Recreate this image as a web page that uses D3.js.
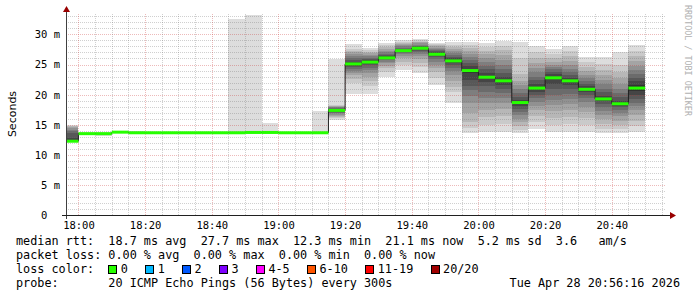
<!DOCTYPE html>
<html>
<head>
<meta charset="utf-8">
<script src="https://cdn.jsdelivr.net/npm/d3@7"></script>
<style>
body { margin: 0; background: #fff; }
svg { display: block; }
text { white-space: pre; }
</style>
</head>
<body>
<svg id="chart" width="697" height="297"></svg>
<script>
"use strict"

// end time of each 5 minute step (300s)
var stepEnds = ["18:00", "18:05", "18:10", "18:15", "18:20", "18:25", "18:30", "18:35", "18:40",
    "18:45", "18:50", "18:55", "19:00", "19:05", "19:10", "19:15", "19:20", "19:25", "19:30",
    "19:35", "19:40", "19:45", "19:50", "19:55", "20:00", "20:05", "20:10", "20:15", "20:20",
    "20:25", "20:30", "20:35", "20:40", "20:45", "20:50"];

// median rtt per step, ms
var medians = [12.3, 13.55, 13.55, 13.8, 13.7, 13.7, 13.7, 13.7, 13.7, 13.7, 13.7, 13.75, 13.75,
    13.7, 13.7, 13.7, 17.4, 25.1, 25.4, 26.1, 27.3, 27.7, 26.7, 25.6, 24.0, 22.9, 22.3, 18.7,
    21.1, 22.8, 22.3, 20.9, 19.3, 18.5, 21.1];

// the 20 sorted pings of each step, ms (smoke)
var pings = [
    [12.1, 12.1, 12.2, 12.2, 12.2, 12.2, 12.3, 12.3, 12.3, 12.3, 12.4, 12.8, 13.6, 14.0, 14.2, 14.5, 14.7, 14.8, 14.9, 15.0],
    [13.4, 13.4, 13.5, 13.5, 13.5, 13.5, 13.5, 13.5, 13.5, 13.5, 13.6, 13.6, 13.6, 13.6, 13.6, 13.6, 13.6, 13.7, 13.7, 13.8],
    [13.1, 13.4, 13.5, 13.5, 13.5, 13.5, 13.5, 13.5, 13.5, 13.5, 13.6, 13.6, 13.6, 13.6, 13.6, 13.6, 13.6, 13.7, 13.7, 13.8],
    [13.6, 13.7, 13.7, 13.7, 13.7, 13.8, 13.8, 13.8, 13.8, 13.8, 13.8, 13.8, 13.8, 13.8, 13.9, 13.9, 13.9, 13.9, 13.9, 14.0],
    [13.5, 13.6, 13.6, 13.6, 13.6, 13.7, 13.7, 13.7, 13.7, 13.7, 13.7, 13.7, 13.7, 13.7, 13.8, 13.8, 13.8, 13.8, 13.9, 14.0],
    [13.6, 13.6, 13.6, 13.6, 13.7, 13.7, 13.7, 13.7, 13.7, 13.7, 13.7, 13.7, 13.7, 13.7, 13.7, 13.8, 13.8, 13.8, 13.8, 13.8],
    [13.6, 13.6, 13.6, 13.6, 13.7, 13.7, 13.7, 13.7, 13.7, 13.7, 13.7, 13.7, 13.7, 13.7, 13.7, 13.8, 13.8, 13.8, 13.8, 13.8],
    [13.6, 13.6, 13.6, 13.6, 13.7, 13.7, 13.7, 13.7, 13.7, 13.7, 13.7, 13.7, 13.7, 13.7, 13.7, 13.8, 13.8, 13.8, 13.8, 13.8],
    [13.6, 13.6, 13.6, 13.6, 13.7, 13.7, 13.7, 13.7, 13.7, 13.7, 13.7, 13.7, 13.7, 13.7, 13.7, 13.8, 13.8, 13.8, 13.8, 13.8],
    [13.6, 13.6, 13.6, 13.6, 13.7, 13.7, 13.7, 13.7, 13.7, 13.7, 13.7, 13.7, 13.7, 13.7, 13.7, 13.8, 13.8, 13.8, 13.8, 13.8],
    [13.6, 13.6, 13.6, 13.6, 13.7, 13.7, 13.7, 13.7, 13.7, 13.7, 13.7, 13.7, 13.7, 13.7, 13.7, 13.8, 13.8, 13.8, 13.8, 32.5],
    [13.6, 13.6, 13.7, 13.7, 13.7, 13.7, 13.7, 13.7, 13.7, 13.7, 13.8, 13.8, 13.8, 13.8, 13.8, 13.8, 13.8, 13.9, 13.9, 33.2],
    [13.6, 13.6, 13.7, 13.7, 13.7, 13.7, 13.7, 13.7, 13.7, 13.7, 13.8, 13.8, 13.8, 13.8, 13.8, 13.8, 13.8, 13.9, 13.9, 15.3],
    [13.6, 13.6, 13.6, 13.6, 13.7, 13.7, 13.7, 13.7, 13.7, 13.7, 13.7, 13.7, 13.7, 13.7, 13.7, 13.8, 13.8, 13.8, 13.8, 13.8],
    [13.6, 13.6, 13.6, 13.6, 13.7, 13.7, 13.7, 13.7, 13.7, 13.7, 13.7, 13.7, 13.7, 13.7, 13.7, 13.8, 13.8, 13.8, 13.8, 13.8],
    [13.6, 13.6, 13.6, 13.6, 13.7, 13.7, 13.7, 13.7, 13.7, 13.7, 13.7, 13.7, 13.7, 13.7, 13.7, 13.8, 13.8, 13.8, 13.8, 17.3],
    [15.8, 16.1, 16.3, 16.5, 16.7, 16.9, 17.0, 17.1, 17.2, 17.3, 17.5, 17.6, 17.7, 17.8, 17.9, 18.0, 18.1, 18.2, 18.3, 25.9],
    [20.2, 21.9, 22.6, 23.2, 23.6, 24.0, 24.3, 24.6, 24.8, 25.0, 25.2, 25.5, 25.8, 26.1, 26.4, 26.7, 27.0, 27.2, 27.5, 28.4],
    [20.2, 21.5, 22.3, 23.0, 23.6, 24.1, 24.5, 24.9, 25.1, 25.3, 25.5, 25.7, 25.9, 26.1, 26.4, 26.6, 26.9, 27.1, 27.4, 27.8],
    [22.9, 23.8, 24.4, 24.8, 25.2, 25.5, 25.7, 25.9, 26.0, 26.1, 26.2, 26.4, 26.6, 26.8, 27.0, 27.3, 27.6, 27.9, 28.2, 28.6],
    [24.1, 24.9, 25.5, 26.0, 26.4, 26.7, 26.9, 27.1, 27.2, 27.3, 27.4, 27.5, 27.6, 27.8, 28.0, 28.2, 28.4, 28.6, 28.8, 29.1],
    [23.6, 24.6, 25.3, 25.9, 26.4, 26.8, 27.1, 27.3, 27.5, 27.6, 27.8, 27.9, 28.0, 28.1, 28.3, 28.5, 28.7, 28.8, 29.0, 29.2],
    [21.6, 22.8, 23.7, 24.4, 25.0, 25.5, 25.9, 26.2, 26.5, 26.6, 26.8, 27.0, 27.2, 27.4, 27.6, 27.8, 28.0, 28.2, 28.4, 28.6],
    [18.7, 20.4, 21.3, 22.3, 23.2, 23.9, 24.4, 24.9, 25.3, 25.5, 25.7, 26.0, 26.3, 26.6, 26.9, 27.2, 27.6, 27.9, 28.3, 28.7],
    [13.6, 14.5, 15.5, 17.0, 18.6, 19.8, 20.8, 21.5, 22.5, 23.6, 24.3, 24.8, 25.3, 25.8, 26.3, 26.8, 27.3, 27.8, 28.3, 28.8],
    [13.9, 15.0, 16.3, 17.5, 18.6, 19.5, 20.5, 21.4, 22.1, 22.7, 23.1, 23.6, 24.2, 24.8, 25.4, 26.0, 26.7, 27.3, 27.9, 28.6],
    [13.9, 15.2, 16.4, 17.6, 18.7, 19.5, 20.3, 21.0, 21.6, 22.1, 22.5, 23.0, 23.6, 24.3, 25.0, 25.8, 26.6, 27.4, 28.1, 28.9],
    [13.6, 14.2, 14.8, 15.4, 16.0, 16.6, 17.2, 17.7, 18.2, 18.6, 18.8, 19.2, 19.7, 20.3, 21.0, 21.6, 22.2, 23.4, 26.1, 28.8],
    [14.3, 15.4, 16.5, 17.4, 18.1, 18.8, 19.4, 19.9, 20.4, 20.9, 21.3, 21.8, 22.4, 23.0, 23.7, 24.4, 25.2, 26.0, 27.0, 28.1],
    [13.9, 15.0, 16.2, 17.3, 18.3, 19.2, 20.0, 20.9, 21.8, 22.6, 23.0, 23.4, 23.8, 24.2, 24.6, 25.0, 25.5, 26.1, 26.8, 27.5],
    [13.9, 15.1, 16.3, 17.4, 18.4, 19.3, 20.1, 20.9, 21.6, 22.2, 22.4, 22.8, 23.3, 23.8, 24.3, 24.9, 25.6, 26.4, 27.2, 28.1],
    [13.9, 15.0, 16.1, 17.1, 18.0, 18.8, 19.5, 20.0, 20.4, 20.8, 21.0, 21.4, 21.8, 22.3, 22.8, 23.3, 23.9, 24.6, 25.4, 26.3],
    [13.6, 14.4, 15.2, 15.9, 16.6, 17.3, 17.9, 18.5, 18.9, 19.2, 19.4, 19.8, 20.4, 21.0, 21.7, 22.4, 23.2, 24.1, 25.1, 26.2],
    [13.6, 14.3, 15.0, 15.7, 16.4, 17.0, 17.5, 17.9, 18.2, 18.4, 18.6, 19.0, 19.6, 20.3, 21.0, 21.8, 22.7, 23.7, 25.0, 27.0],
    [13.9, 14.8, 15.7, 16.6, 17.4, 18.1, 18.7, 19.3, 19.9, 20.6, 21.6, 22.2, 22.8, 23.4, 24.1, 24.8, 25.6, 26.4, 27.3, 28.2]
];

var yTickValues = [0, 5, 10, 15, 20, 25, 30];
var yTickLabels = ["0  ", "5 m", "10 m", "15 m", "20 m", "25 m", "30 m"];
var xTickLabels = ["18:00", "18:20", "18:40", "19:00", "19:20", "19:40", "20:00", "20:20", "20:40"];

var lossLabels = ["0", "1", "2", "3", "4-5", "6-10", "11-19", "20/20"];
var lossColors = ["#26ff00", "#00b8ff", "#0059ff", "#7e00ff", "#ff00ff", "#ff5500", "#ff0000", "#a10000"];

var legendRows = [
    "median rtt:  18.7 ms avg  27.7 ms max  12.3 ms min  21.1 ms now  5.2 ms sd  3.6   am/s",
    "packet loss: 0.00 % avg  0.00 % max  0.00 % min  0.00 % now",
    "loss color:",
    "probe:       20 ICMP Echo Pings (56 Bytes) every 300s"
];
var stamp = "Tue Apr 28 20:56:16 2026";

var MONO = "'DejaVu Sans Mono', monospace";
var SANS = "'DejaVu Sans', sans-serif";

function toMin(s_) {
    var p = s_.split(":");
    return +p[0] * 60 + +p[1];
}

var svg = d3.select("#chart");

var x = d3.scaleLinear()
    .domain([toMin("17:56") + 16 / 60, toMin("20:56") + 16 / 60])
    .range([66, 666]);

var y = d3.scaleLinear()
    .domain([0, 33.3])
    .range([215.5, 14.4]);

svg.append("rect").attr("width", 697).attr("height", 297).attr("fill", "#fff");

// smoke: pairs of pings from the outside in, lighter to darker
var smoke = svg.append("g").attr("shape-rendering", "crispEdges");

pings.forEach(function(p, k) {

    var t1 = toMin(stepEnds[k]);
    var x0 = Math.round(Math.max(x(t1 - 5), x.range()[0]));
    var x1 = Math.round(x(t1));
    var n = p.length;
    var half = n / 2;

    for (var i = 0; i < half; i++) {
        var c = Math.floor(190 / half * (half - (i + 1))) + 50;
        var top = Math.round(y(p[n - 1 - i]));
        var bot = Math.round(y(p[i]));
        smoke.append("rect")
            .attr("x", x0)
            .attr("y", top)
            .attr("width", x1 - x0)
            .attr("height", Math.max(0, bot - top))
            .attr("fill", d3.rgb(c, c, c));
    }

});

// grid
var grid = svg.append("g").attr("shape-rendering", "crispEdges").attr("stroke-dasharray", "1,1");
var minorCol = "rgba(110,110,110,0.32)";
var majorCol = "rgba(200,40,40,0.32)";

d3.range(1, 34).forEach(function(v) {
    var yy = Math.round(y(v)) + 0.5;
    grid.append("line")
        .attr("x1", 66).attr("x2", 666)
        .attr("y1", yy).attr("y2", yy)
        .attr("stroke", v % 5 === 0 ? majorCol : minorCol);
});

d3.range(toMin("18:00"), toMin("20:56"), 5).forEach(function(t) {
    var xx = Math.round(x(t)) + 0.5;
    grid.append("line")
        .attr("x1", xx).attr("x2", xx)
        .attr("y1", 14).attr("y2", 215)
        .attr("stroke", (t - toMin("18:00")) % 20 === 0 ? majorCol : minorCol);
});

// median: thin dark step line, then loss colored segments
var steps = [];
medians.forEach(function(m, k) {
    var t1 = toMin(stepEnds[k]);
    var yy = y(m);
    steps.push([Math.max(x(t1 - 5), x.range()[0]), yy]);
    steps.push([x(t1), yy]);
});

svg.append("path")
    .attr("d", d3.line()(steps))
    .attr("fill", "none")
    .attr("stroke", "#202020")
    .attr("stroke-width", 1);

svg.append("g").selectAll("line")
    .data(medians)
    .enter().append("line")
    .attr("x1", function(d, k) { return Math.max(x(toMin(stepEnds[k]) - 5), x.range()[0]); })
    .attr("x2", function(d, k) { return x(toMin(stepEnds[k])); })
    .attr("y1", function(d) { return y(d); })
    .attr("y2", function(d) { return y(d); })
    .attr("stroke", lossColors[0])
    .attr("stroke-width", 3);

// axes
var yAxis = d3.axisLeft(y)
    .tickValues(yTickValues)
    .tickFormat(function(d, i) { return yTickLabels[i]; })
    .tickSize(0)
    .tickPadding(6);

var gy = svg.append("g").attr("transform", "translate(66,0)").call(yAxis);
gy.select(".domain").remove();
gy.selectAll("text").attr("font-family", MONO).attr("font-size", 10.5).attr("fill", "#000");

var xAxis = d3.axisBottom(x)
    .tickValues(xTickLabels.map(toMin))
    .tickFormat(function(d, i) { return xTickLabels[i]; })
    .tickSize(0)
    .tickPadding(6);

var gx = svg.append("g").attr("transform", "translate(0,215.5)").call(xAxis);
gx.select(".domain").remove();
gx.selectAll("text").attr("font-family", MONO).attr("font-size", 10.5).attr("fill", "#000");

svg.append("line").attr("x1", 66.5).attr("x2", 66.5).attr("y1", 219).attr("y2", 12)
    .attr("stroke", "#404040").attr("shape-rendering", "crispEdges");
svg.append("line").attr("x1", 62).attr("x2", 671).attr("y1", 215.5).attr("y2", 215.5)
    .attr("stroke", "#202020").attr("shape-rendering", "crispEdges");

svg.append("path").attr("d", "M66.5,6L63,12L70,12Z").attr("fill", "#990000");
svg.append("path").attr("d", "M676,215.5L670,212L670,219Z").attr("fill", "#990000");

// titles
svg.append("text")
    .attr("transform", "translate(16,114) rotate(-90)")
    .attr("text-anchor", "middle")
    .attr("font-family", SANS)
    .attr("font-size", 11)
    .attr("fill", "#000")
    .text("Seconds");

svg.append("text")
    .attr("transform", "translate(685,5) rotate(90)")
    .attr("font-family", MONO)
    .attr("font-size", 8.4)
    .attr("fill", "#b0b0b0")
    .text("RRDTOOL / TOBI OETIKER");

// legend
var pitch = 7.1;
var rowY = [244.6, 259, 273, 287.3];

legendRows.forEach(function(s, i) {
    svg.append("text")
        .attr("x", 16).attr("y", rowY[i])
        .attr("font-family", MONO).attr("font-size", 11.8)
        .attr("fill", "#000")
        .text(s);
});

var col = 13;
lossLabels.forEach(function(l, i) {
    svg.append("rect")
        .attr("x", 16 + col * pitch + 0.5).attr("y", 265.5)
        .attr("width", 8).attr("height", 8)
        .attr("fill", lossColors[i])
        .attr("stroke", "#000").attr("stroke-width", 1)
        .attr("shape-rendering", "crispEdges");
    svg.append("text")
        .attr("x", 16 + (col + 1.75) * pitch).attr("y", rowY[2])
        .attr("font-family", MONO).attr("font-size", 11.8)
        .attr("fill", "#000")
        .text(l);
    col += 1.75 + l.length + 2.45;
});

svg.append("text")
    .attr("x", 680).attr("y", rowY[3])
    .attr("text-anchor", "end")
    .attr("font-family", MONO).attr("font-size", 11.8)
    .attr("fill", "#000")
    .text(stamp);

</script>
</body>
</html>
